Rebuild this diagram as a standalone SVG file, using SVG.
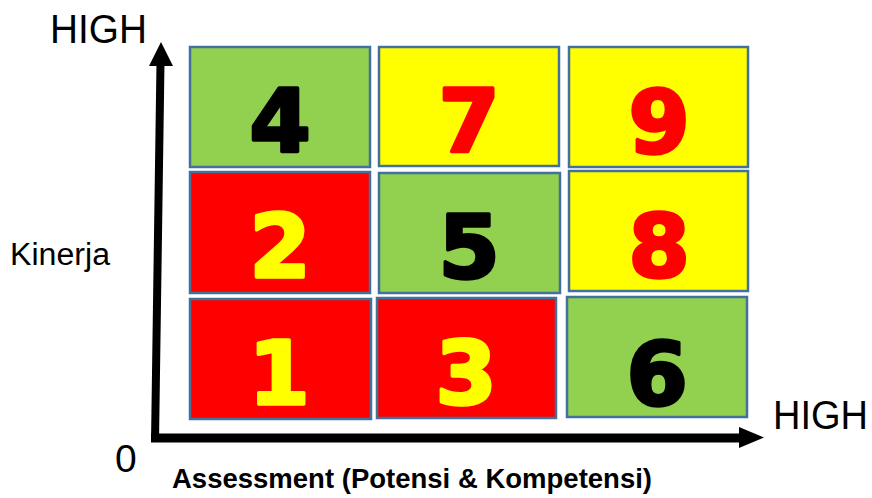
<svg xmlns="http://www.w3.org/2000/svg" width="872" height="498" viewBox="0 0 872 498">
<style>
.box{stroke:#41719C;stroke-width:2.5}
.g{fill:#92D050}.y{fill:#FFFF00}.r{fill:#FF0000}
.num{font-family:"DejaVu Sans",sans-serif;font-weight:bold;font-size:88px;text-anchor:middle;stroke-width:3.5;stroke-linejoin:round}
.k{fill:#000;stroke:#000}.rt{fill:#FF0000;stroke:#FF0000}.yt{fill:#FFFF00;stroke:#FFFF00}
.lbl{font-family:"Liberation Sans",Arial,sans-serif;fill:#000}
</style>
<rect width="872" height="498" fill="#fff"/>
<g id="box4"><rect class="box g" x="190" y="47" width="180" height="120"/><text class="num k" x="280" y="152">4</text></g>
<g id="box7"><rect class="box y" x="379" y="47" width="180" height="119"/><text class="num rt" x="469" y="152">7</text></g>
<g id="box9"><rect class="box y" x="569" y="47" width="179" height="120"/><text class="num rt" x="659" y="153">9</text></g>
<g id="box2"><rect class="box r" x="190" y="172" width="180" height="121"/><text class="num yt" x="280" y="277">2</text></g>
<g id="box5"><rect class="box g" x="379" y="173" width="181" height="120"/><text class="num k" x="469" y="278">5</text></g>
<g id="box8"><rect class="box y" x="569" y="171" width="179" height="120"/><text class="num rt" x="659" y="277">8</text></g>
<g id="box1"><rect class="box r" x="190" y="299" width="181" height="120"/><text class="num yt" x="279" y="404">1</text></g>
<g id="box3"><rect class="box r" x="377" y="298" width="179" height="120"/><text class="num yt" x="466" y="404">3</text></g>
<g id="box6"><rect class="box g" x="567" y="297" width="180" height="120"/><text class="num k" x="657" y="405">6</text></g>
<g id="connectors">
<line x1="155" y1="442" x2="160.5" y2="62" stroke="#000" stroke-width="8"/>
<polygon points="149,66 161,42 173,66" fill="#000"/>
<line x1="151" y1="438" x2="742" y2="438" stroke="#000" stroke-width="9"/>
<polygon points="739,427 764,437.5 739,448" fill="#000"/>
</g>
<g id="labels">
<text class="lbl" x="50" y="43" font-size="40" textLength="97" lengthAdjust="spacingAndGlyphs">HIGH</text>
<text class="lbl" x="773" y="429" font-size="40" textLength="95" lengthAdjust="spacingAndGlyphs">HIGH</text>
<text class="lbl" x="10" y="265" font-size="31" textLength="100" lengthAdjust="spacingAndGlyphs">Kinerja</text>
<text class="lbl" x="115" y="472" font-size="39">0</text>
<text class="lbl" x="172" y="488" font-size="27" font-weight="bold" textLength="480" lengthAdjust="spacingAndGlyphs">Assessment (Potensi &amp; Kompetensi)</text>
</g>
</svg>
